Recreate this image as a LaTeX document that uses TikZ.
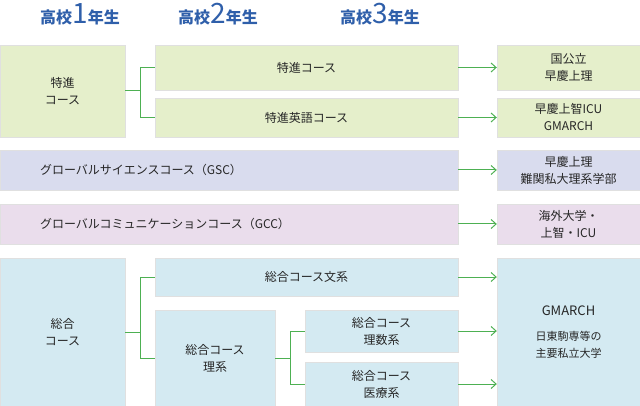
\documentclass[tikz,border=0pt]{standalone}
\usepackage{fontspec}
\setmainfont{Noto Sans CJK JP}
\usetikzlibrary{calc, arrows.meta}
\definecolor{tokgreen}{HTML}{E5EFCB}
\definecolor{gscblue}{HTML}{D9DCEE}
\definecolor{gccpink}{HTML}{EADDEC}
\definecolor{sogoblue}{HTML}{D4EAF2}
\definecolor{linegreen}{HTML}{4DB052}
\definecolor{headblue}{HTML}{2F5FAA}
\begin{document}
\begin{tikzpicture}[
    x=1pt,
    y=-1pt,
    box/.style={draw=black!12, rectangle, inner sep=0, align=center,
      font=\fontsize{12}{17}\selectfont, text=black!85},
    head/.style={text=headblue, font=\bfseries\fontsize{16}{18}\selectfont},
    link/.style={draw=linegreen, line width=1pt},
    goal/.style={link, -{Straight Barb[length=5pt, width=9pt]}}]
   \useasboundingbox (0,0) rectangle (640,406);

   \node[head] (h1) at ( 80,14) {高校\textnormal{\fontsize{28}{28}\selectfont 1}年生};
   \node[head] (h2) at (218,14) {高校\textnormal{\fontsize{28}{28}\selectfont 2}年生};
   \node[head] (h3) at (380,14) {高校\textnormal{\fontsize{28}{28}\selectfont 3}年生};

   % 特進
   \path
     node(tk)  at ( 62.5, 91.0) [box, fill=tokgreen, minimum width=125, minimum height=92] {特進\\コース}
     node(tk1) at (306.5, 67.5) [box, fill=tokgreen, minimum width=303, minimum height=45] {特進コース}
     node(tk2) at (306.5,117.5) [box, fill=tokgreen, minimum width=303, minimum height=39] {特進英語コース}
     node(tg1) at (568.5, 67.5) [box, fill=tokgreen, minimum width=143, minimum height=45] {国公立\\早慶上理}
     node(tg2) at (568.5,117.5) [box, fill=tokgreen, minimum width=143, minimum height=39] {早慶上智ICU\\GMARCH};

   % GSC / GCC
   \path
     node(gsc)  at (229.0,170) [box, fill=gscblue, minimum width=458, minimum height=40, text width=378, align=left] {グローバルサイエンスコース（GSC）}
     node(gscg) at (568.5,170) [box, fill=gscblue, minimum width=143, minimum height=40] {早慶上理\\難関私大理系学部}
     node(gcc)  at (229.0,224) [box, fill=gccpink, minimum width=458, minimum height=40, text width=378, align=left] {グローバルコミュニケーションコース（GCC）}
     node(gccg) at (568.5,224) [box, fill=gccpink, minimum width=143, minimum height=40] {海外大学・\\上智・ICU};

   % 総合
   \path
     node(sg)   at ( 62.5,332.0) [box, fill=sogoblue, minimum width=125, minimum height=148] {総合\\コース}
     node(sg1)  at (306.5,277.0) [box, fill=sogoblue, minimum width=303, minimum height=38] {総合コース文系}
     node(sg2)  at (215.0,358.0) [box, fill=sogoblue, minimum width=120, minimum height=96] {総合コース\\理系}
     node(sg21) at (381.5,331.0) [box, fill=sogoblue, minimum width=153, minimum height=42] {総合コース\\理数系}
     node(sg22) at (381.5,384.0) [box, fill=sogoblue, minimum width=153, minimum height=44] {総合コース\\医療系}
     node(sgg)  at (568.5,332.0) [box, fill=sogoblue, minimum width=143, minimum height=148]
       {\fontsize{13}{17}\selectfont GMARCH\\[8pt]\fontsize{11}{16}\selectfont 日東駒専等の\\\fontsize{11}{16}\selectfont 主要私立大学};

   \begin{scope}[link]
     \draw (tk.east) -- ++(15,0) |- (tk1.west);
     \draw (tk.east) -- ++(15,0) |- (tk2.west);
     \draw (sg.east) -- ++(15,0) |- (sg1.west);
     \draw (sg.east) -- ++(15,0) |- (sg2.west);
     \draw (sg2.east) -- ++(15,0) |- (sg21.west);
     \draw (sg2.east) -- ++(15,0) |- (sg22.west);
   \end{scope}

   \begin{scope}[goal]
     \draw (tk1.east) -- (tg1.west);
     \draw (tk2.east) -- (tg2.west);
     \draw (gsc.east) -- (gscg.west);
     \draw (gcc.east) -- (gccg.west);
     \draw (sg1.east) -- (sg1.east -| sgg.west);
     \draw (sg21.east) -- (sg21.east -| sgg.west);
     \draw (sg22.east) -- (sg22.east -| sgg.west);
   \end{scope}
\end{tikzpicture}
\end{document}
